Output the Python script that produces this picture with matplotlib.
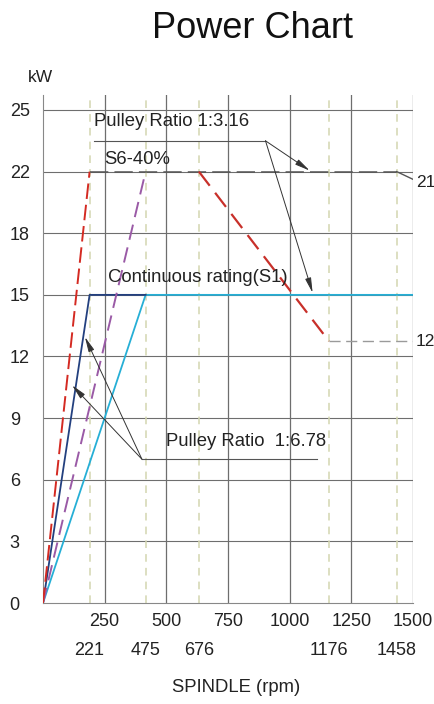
import numpy as np
import matplotlib
matplotlib.use("Agg")
import matplotlib.pyplot as plt

plt.rcParams['font.family'] = ['Liberation Sans', 'DejaVu Sans']

# ---- data ----
y_ticks = [0, 3, 6, 9, 12, 15, 18, 22, 25]
x_ticks = [250, 500, 750, 1000, 1250, 1500]
x_tick_labels = ['250', '500', '750', '1000', '1250', '1500']
# corner speeds (as drawn) and their printed labels
corner_speeds = [189, 416, 632, 1159, 1434]
corner_labels = ['221', '475', '676', '1176', '1458']

s6_low_x = [0, 189]            # red dashed, ratio 1:6.78, S6
s6_low_y = [0, 22]
s6_high_x = [0, 416]           # purple dashed, ratio 1:3.16, S6
s6_high_y = [0, 22]
s1_low_x = [0, 189, 416]       # dark blue, ratio 1:6.78, S1
s1_low_y = [0, 15, 15]
s1_high_x = [0, 416, 1500]     # cyan, ratio 1:3.16, S1
s1_high_y = [0, 15, 15]
s6_top_x = [189, 1434]         # S6 plateau
s6_top_y = [22, 22]
s6_tail_x = [1434, 1500]
s6_tail_y = [22, 21.5]
s6_fall_x = [632, 1159]        # red dashed fall
s6_fall_y = [22, 12.75]
low_tail_x = [1159, 1500]
low_tail_y = [12.75, 12.75]

# non-uniform y scale (18 -> 22 shares one grid step)
yv = [-10, 0, 18, 22, 40]
yp = [-10, 0, 18, 21, 39]
fwd = lambda y: np.interp(y, yv, yp)
inv = lambda p: np.interp(p, yp, yv)

fig = plt.figure(figsize=(4.35, 7.04), dpi=100)
ax = fig.add_axes([43/435, 1 - 603/704, 370/435, 508/704])
ax.set_yscale('function', functions=(fwd, inv))
ax.set_xlim(0, 1500)
ax.set_ylim(0, 25.73)

grid_c = '#6e6e6e'
for y in y_ticks[1:]:
    ax.axhline(y, color=grid_c, lw=0.8, zorder=1)
for x in x_ticks:
    ax.axvline(x, color=grid_c, lw=0.9, zorder=1)
for x in corner_speeds:
    ax.axvline(x, color='#d3d6b0', lw=1.1, ls=(0, (5, 4)), zorder=1)

for s in ['top', 'right']:
    ax.spines[s].set_visible(False)
ax.spines['left'].set_color('#888888')
ax.spines['bottom'].set_color('#888888')

ax.plot(s1_high_x, s1_high_y, color='#26afd6', lw=1.3, zorder=3)
ax.plot(s1_low_x, s1_low_y, color='#23407f', lw=1.3, zorder=3)
ax.plot(s6_high_x, s6_high_y, color='#9a5aa6', lw=1.4, ls=(0, (8, 4)), zorder=3)
ax.plot(s6_low_x, s6_low_y, color='#d42a22', lw=1.4, ls=(0, (8, 3)), zorder=3)
ax.plot(s6_top_x, s6_top_y, color='#555555', lw=1.1, ls=(0, (12, 4)), zorder=3)
ax.plot(s6_tail_x, s6_tail_y, color='#555555', lw=1.0, zorder=3)
ax.plot(s6_fall_x, s6_fall_y, color='#c8302a', lw=1.6, ls=(0, (8, 4)), zorder=3)
ax.plot(low_tail_x, low_tail_y, color='#9a9a9a', lw=1.0, ls=(0, (8, 4)), zorder=3)

ax.set_yticks(y_ticks)
ax.set_yticklabels([str(v) for v in y_ticks], fontsize=13, color='#222222')
ax.tick_params(axis='y', length=0, pad=24)
for t in ax.get_yticklabels():
    t.set_horizontalalignment('left')

ax.set_xticks(x_ticks)
ax.set_xticklabels(x_tick_labels, fontsize=13, color='#222222')
ax.set_xticks(corner_speeds, minor=True)
ax.set_xticklabels(corner_labels, minor=True, fontsize=13, color='#222222')
ax.tick_params(axis='x', which='major', length=0, pad=7.5)
ax.tick_params(axis='x', which='minor', length=0, pad=28)

# annotations
tc = '#222222'
fs = 13.3
ax.text(207, 24.44, 'Pulley Ratio 1:3.16', fontsize=fs, color=tc, va='center', ha='left', zorder=5)
ax.plot([207, 902], [23.5, 23.5], color='#555555', lw=0.8, zorder=4)
ap = dict(arrowstyle='-|>,head_length=0.9,head_width=0.18', color='#333333', lw=0.7, shrinkA=0, shrinkB=0)
ax.annotate('', xy=(1081, 22.05), xytext=(902, 23.5), arrowprops=ap, zorder=5)
ax.annotate('', xy=(1093, 15.1), xytext=(902, 23.5), arrowprops=ap, zorder=5)

ax.text(247, 22.57, 'S6-40%', fontsize=fs, color=tc, va='center', ha='left', zorder=5)
ax.text(264, 15.87, 'Continuous rating(S1)', fontsize=fs, color=tc, va='center', ha='left', zorder=5)

ax.text(499, 7.85, 'Pulley Ratio  1:6.78', fontsize=fs, color=tc, va='center', ha='left', zorder=5)
ax.plot([401, 1111], [7.0, 7.0], color='#555555', lw=0.8, zorder=4)
ax.annotate('', xy=(170, 12.95), xytext=(401, 7.0), arrowprops=ap, zorder=5)
ax.annotate('', xy=(118, 10.6), xytext=(401, 7.0), arrowprops=ap, zorder=5)

ax.text(1512, 21.3, '21', fontsize=12.5, color=tc, va='center', ha='left', clip_on=False)
ax.text(1512, 12.75, '12', fontsize=12.5, color=tc, va='center', ha='left', clip_on=False)

fig.text(252/435, 1 - 28/704, 'Power Chart', fontsize=26, color='#111111', ha='center', va='center')
fig.text(40/435, 1 - 77/704, 'kW', fontsize=12.5, color='#222222', ha='center', va='center')
fig.text(236/435, 1 - 688/704, 'SPINDLE (rpm)', fontsize=13.3, color='#222222', ha='center', va='center')

fig.savefig('out.png', dpi=100)
